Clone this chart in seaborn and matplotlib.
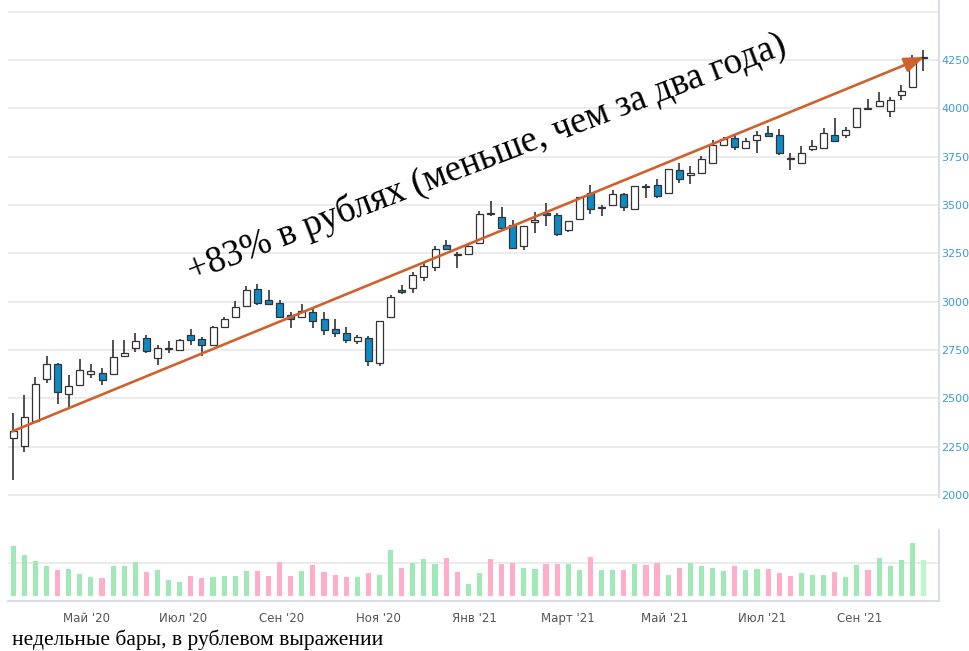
import numpy as np
import pandas as pd
import seaborn as sns
import matplotlib
matplotlib.use("Agg")
import matplotlib.pyplot as plt
import matplotlib.dates as mdates

# weekly bars, first week starting 2020-03-16
week_start = "2020-03-16"

opens = [2295, 2255, 2380, 2599, 2675, 2522, 2566, 2625, 2633, 2625,
         2716, 2759, 2809, 2706, 2757, 2750, 2825, 2806, 2773, 2869,
         2922, 2978, 3067, 3006, 2994, 2931, 2922, 2948, 2908, 2857,
         2835, 2797, 2814, 2683, 2921, 3058, 3068, 3128, 3180, 3291,
         3246, 3248, 3303, 3456, 3440, 3397, 3289, 3412, 3457, 3449,
         3369, 3425, 3563, 3482, 3502, 3558, 3478, 3600, 3603, 3560,
         3681, 3653, 3667, 3719, 3809, 3848, 3792, 3835, 3874, 3861,
         3745, 3717, 3787, 3792, 3861, 3861, 3902, 4003, 4010, 3987,
         4071, 4109, 4259]
highs = [2424, 2518, 2611, 2716, 2680, 2620, 2702, 2677, 2656, 2800,
         2800, 2837, 2826, 2776, 2797, 2805, 2856, 2819, 2872, 2920,
         3005, 3080, 3092, 3058, 3008, 2945, 2988, 2965, 2948, 2909,
         2866, 2826, 2823, 2900, 3034, 3084, 3152, 3200, 3286, 3317,
         3255, 3294, 3466, 3522, 3491, 3423, 3390, 3465, 3508, 3457,
         3416, 3540, 3605, 3500, 3577, 3560, 3600, 3607, 3633, 3684,
         3719, 3702, 3753, 3836, 3853, 3865, 3844, 3884, 3909, 3891,
         3766, 3804, 3835, 3896, 3949, 3902, 4001, 4048, 4083, 4058,
         4118, 4274, 4302]
lows = [2078, 2221, 2375, 2578, 2470, 2448, 2562, 2604, 2568, 2625,
        2712, 2737, 2732, 2673, 2732, 2745, 2776, 2716, 2770, 2866,
        2915, 2972, 2982, 2983, 2916, 2862, 2920, 2865, 2828, 2818,
        2788, 2780, 2668, 2666, 2918, 3038, 3046, 3106, 3158, 3265,
        3175, 3246, 3300, 3443, 3372, 3275, 3269, 3353, 3389, 3341,
        3358, 3423, 3454, 3442, 3498, 3466, 3476, 3538, 3538, 3558,
        3612, 3607, 3665, 3717, 3805, 3784, 3790, 3769, 3853, 3757,
        3682, 3713, 3778, 3790, 3827, 3844, 3900, 3989, 4008, 3957,
        4044, 4107, 4193]
closes = [2329, 2405, 2573, 2675, 2534, 2565, 2647, 2642, 2596, 2711,
          2733, 2797, 2744, 2759, 2761, 2800, 2803, 2773, 2866, 2909,
          2972, 3060, 2995, 2985, 2922, 2909, 2953, 2900, 2853, 2837,
          2800, 2818, 2694, 2897, 3022, 3052, 3140, 3183, 3274, 3272,
          3240, 3289, 3454, 3452, 3380, 3277, 3389, 3424, 3449, 3347,
          3416, 3540, 3478, 3490, 3558, 3490, 3598, 3595, 3547, 3684,
          3636, 3667, 3736, 3809, 3840, 3802, 3830, 3861, 3856, 3766,
          3735, 3769, 3804, 3874, 3832, 3888, 4001, 3998, 4036, 4041,
          4088, 4259, 4265]
volumes = [150, 125, 105, 89, 79, 82, 65, 58, 54, 89,
           89, 101, 71, 78, 48, 41, 61, 54, 58, 61,
           61, 74, 74, 61, 101, 61, 74, 92, 71, 64,
           58, 58, 68, 64, 138, 85, 99, 111, 95, 115,
           71, 34, 68, 112, 95, 99, 85, 82, 95, 95,
           95, 79, 119, 79, 79, 79, 95, 92, 99, 64,
           85, 99, 89, 85, 74, 89, 79, 82, 82, 68,
           61, 68, 64, 64, 71, 58, 92, 79, 115, 89,
           109, 160, 109]

month_ticks = ["2020-05-01", "2020-07-01", "2020-09-01", "2020-11-01", "2021-01-01",
               "2021-03-01", "2021-05-01", "2021-07-01", "2021-09-01"]
month_labels = ["Май '20", "Июл '20", "Сен '20", "Ноя '20", "Янв '21",
                "Март '21", "Май '21", "Июл '21", "Сен '21"]
price_ticks = [2000, 2250, 2500, 2750, 3000, 3250, 3500, 3750, 4000, 4250, 4500]
price_labels = ["2000", "2250", "2500", "2750", "3000", "3250", "3500", "3750", "4000", "4250", ""]

note_text = "+83% в рублях (меньше, чем за два года)"
caption = "недельные бары, в рублевом выражении"

sns.set_style("white")
plt.rcParams["font.family"] = ["DejaVu Sans"]

dates = pd.date_range(week_start, periods=len(opens), freq="7D")
xnum = mdates.date2num(dates)
opens = np.array(opens)
closes = np.array(closes)
up = closes >= opens

fig = plt.figure(figsize=(9.7, 6.51), dpi=100)
fig.patch.set_facecolor("white")
ax = fig.add_axes([8 / 970, 1 - 497 / 651, 931 / 970, 497 / 651])
axv = fig.add_axes([8 / 970, 1 - 600.5 / 651, 931 / 970, 70.5 / 651])

# candles
ax.vlines(xnum, lows, highs, color="#222222", lw=1.1, zorder=2)
body_lo = np.minimum(opens, closes)
body_h = np.maximum(np.abs(closes - opens), 3)
ax.bar(xnum, body_h, bottom=body_lo, width=4.4,
       color=np.where(up, "white", "#0c8ac6"), edgecolor="#333333", linewidth=0.9, zorder=3)

# trend arrow
ax.annotate("", xy=(xnum[-1] + 0.5, closes[-1]), xytext=(xnum[0] - 0.5, closes[0]),
            arrowprops=dict(arrowstyle="-|>,head_length=1.2,head_width=0.45", mutation_scale=10,
                            color="#d0602d", lw=1.9, shrinkA=0, shrinkB=0), zorder=5)

ax.set_xlim(xnum[0] - 3.3, xnum[0] + 583.8)
ax.set_ylim(1989, 4560)
ax.set_yticks(price_ticks)
ax.set_yticklabels(price_labels)
ax.yaxis.tick_right()
ax.tick_params(axis="y", length=0, pad=1.5, labelsize=8, labelcolor="#3d9bd8")
ax.tick_params(axis="x", bottom=False, labelbottom=False)
ax.grid(axis="y", color="#e8e8e8", lw=1.2)
ax.grid(axis="x", visible=False)
ax.set_axisbelow(True)
for s in ["top", "left", "bottom"]:
    ax.spines[s].set_visible(False)
ax.spines["right"].set_color("#d5d9ee")
ax.spines["right"].set_linewidth(1.3)

# volume
vdir = np.where(up, "up", "down")
vdir[-1] = "live"
vol_df = pd.DataFrame({"x": xnum, "vol": volumes, "dir": vdir})
sns.barplot(data=vol_df, x="x", y="vol", hue="dir", native_scale=True, width=0.46,
            palette={"up": "#a0e9b6", "down": "#ffadc8", "live": "#b9f7cd"},
            saturation=1, dodge=False, legend=False, linewidth=0, ax=axv)
axv.set_xlim(ax.get_xlim())
axv.set_ylim(-15, 200)
axv.set_yticks([100])
axv.tick_params(axis="y", length=0, labelleft=False, labelright=False)
axv.grid(axis="y", color="#e8e8e8", lw=1.2)
axv.grid(axis="x", visible=False)
axv.set_axisbelow(True)
axv.set_xticks(mdates.date2num(pd.to_datetime(month_ticks)))
axv.set_xticklabels(month_labels)
axv.tick_params(axis="x", length=6.5, width=1, color="#c8cde6", pad=1.5,
                labelsize=8.5, labelcolor="#555555")
axv.set_xlabel("")
axv.set_ylabel("")
for s in ["top", "left"]:
    axv.spines[s].set_visible(False)
for s in ["bottom", "right"]:
    axv.spines[s].set_color("#d5d9ee")
    axv.spines[s].set_linewidth(1.3)

fig.text(0.502, 0.758, note_text, rotation=21, rotation_mode="anchor",
         ha="center", va="center", fontsize=26.5, family="Liberation Serif", color="black")
fig.text(12 / 970, 6 / 651, caption, ha="left", va="baseline",
         fontsize=15.5, family="Liberation Serif", color="black")

fig.savefig("out.png", dpi=100, facecolor="white")
